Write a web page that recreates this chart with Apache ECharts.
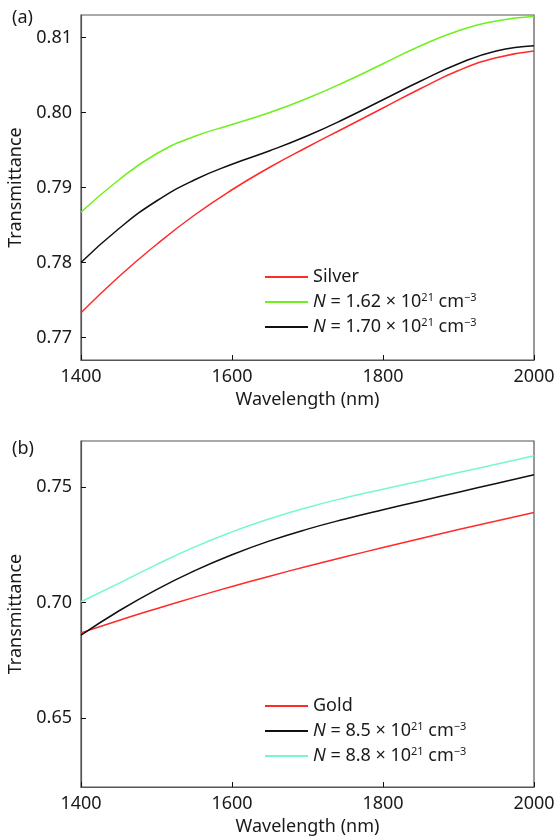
<!DOCTYPE html>
<html>
<head>
<meta charset="utf-8">
<script src="https://cdn.jsdelivr.net/npm/echarts@6/dist/echarts.min.js"></script>
<style>
html,body{margin:0;padding:0;background:#fff;}
#chart{width:557px;height:837px;}
</style>
</head>
<body>
<div id="chart"></div>
<script>
// Wavelength (nm)
var wavelengths = [1400,1450,1500,1550,1600,1650,1700,1750,1800,1850,1900,1950,2000];

// Panel (a)
var silver   = [0.7733,0.7781,0.7824,0.7863,0.7897,0.7927,0.7954,0.7980,0.8006,0.8032,0.8056,0.8073,0.8082];
var agN162   = [0.7867,0.7910,0.7945,0.7968,0.7984,0.8000,0.8019,0.8041,0.8065,0.8089,0.8109,0.8122,0.8128];
var agN170   = [0.7800,0.7845,0.7882,0.7910,0.7931,0.7949,0.7969,0.7992,0.8017,0.8042,0.8065,0.8082,0.8089];

// Panel (b)
var gold     = [0.6868,0.6922,0.6973,0.7022,0.7069,0.7114,0.7157,0.7198,0.7238,0.7277,0.7316,0.7353,0.7390];
var auN85    = [0.6858,0.6963,0.7056,0.7137,0.7207,0.7267,0.7318,0.7362,0.7402,0.7440,0.7478,0.7516,0.7554];
var auN88    = [0.7003,0.7083,0.7164,0.7240,0.7306,0.7363,0.7412,0.7454,0.7491,0.7527,0.7563,0.7599,0.7636];

var xTicks = [1400,1600,1800,2000];
var yTicksA = [0.77,0.78,0.79,0.80,0.81];
var yTicksB = [0.65,0.70,0.75];

var namesA = ['Silver','N = 1.62 × 10^21 cm^−3','N = 1.70 × 10^21 cm^−3'];
var namesB = ['Gold','N = 8.5 × 10^21 cm^−3','N = 8.8 × 10^21 cm^−3'];

var FONT = 'Noto Sans';
function pairs(ys){ return wavelengths.map(function(x,i){ return [x, ys[i]]; }); }
function legendFmt(name){
  if (name.indexOf('N = ') !== 0) return name;
  var m = name.match(/^N = (.*) × 10\^(\d+) cm\^(.*)$/);
  return '{i|N} = ' + m[1] + ' × 10{sup|' + m[2] + '} cm{sup|' + m[3] + '}';
}
var rich = {
  i: {fontStyle:'italic', fontSize:18, fontFamily:FONT, color:'#1a1a1a'},
  sup: {fontSize:11, fontFamily:FONT, color:'#1a1a1a', verticalAlign:'top', lineHeight:20}
};

function xAx(gi){
  return {
    type:'value', gridIndex:gi, min:1400, max:2000, interval:200,
    name:'Wavelength (nm)', nameLocation:'middle', nameGap:31,
    nameTextStyle:{fontSize:18, fontFamily:FONT, color:'#1a1a1a'},
    axisLine:{show:true, lineStyle:{color:'#555', width:1.2}},
    axisTick:{show:true, inside:true, length:5, customValues:xTicks, lineStyle:{color:'#111'}},
    axisLabel:{fontSize:18, fontFamily:FONT, color:'#1a1a1a', margin:8, customValues:xTicks,
      formatter:function(v){ return String(v); }},
    splitLine:{show:false}
  };
}
function yAx(gi, min, max, ticks){
  return {
    type:'value', gridIndex:gi, min:min, max:max,
    name:'Transmittance', nameLocation:'middle', nameGap:56,
    nameTextStyle:{fontSize:18, fontFamily:FONT, color:'#1a1a1a'},
    axisLine:{show:true, lineStyle:{color:'#555', width:1.2}},
    axisTick:{show:true, inside:true, length:5, customValues:ticks, lineStyle:{color:'#111'}},
    axisLabel:{fontSize:18, fontFamily:FONT, color:'#1a1a1a', margin:9, customValues:ticks,
      formatter:function(v){ return v.toFixed(2); }},
    splitLine:{show:false}
  };
}
function ser(name, data, color, xi){
  return {type:'line', name:name, xAxisIndex:xi, yAxisIndex:xi, data:pairs(data),
    smooth:true, showSymbol:false, symbol:'none', lineStyle:{color:color, width:1.5}, itemStyle:{color:color},
    animation:false};
}

var chart = echarts.init(document.getElementById('chart'));
chart.setOption({
  animation:false,
  backgroundColor:'#fff',
  title:[
    {text:'(a)', left:7, top:4, textStyle:{fontSize:18, fontWeight:'normal', fontFamily:FONT, color:'#1a1a1a'}},
    {text:'(b)', left:7, top:435, textStyle:{fontSize:18, fontWeight:'normal', fontFamily:FONT, color:'#1a1a1a'}}
  ],
  grid:[
    {left:81, top:15, width:453, height:345, show:true, borderColor:'#555', borderWidth:1.2, containLabel:false, outerBoundsMode:'none'},
    {left:81, top:441, width:453, height:346, show:true, borderColor:'#555', borderWidth:1.2, containLabel:false, outerBoundsMode:'none'}
  ],
  xAxis:[xAx(0), xAx(1)],
  yAxis:[yAx(0, 0.767, 0.813, yTicksA), yAx(1, 0.62, 0.77, yTicksB)],
  legend:[
    {data:namesA, orient:'vertical', left:260, top:262, itemWidth:43, itemHeight:2, itemGap:5, icon:'rect',
     formatter:legendFmt, textStyle:{fontSize:18, fontFamily:FONT, color:'#1a1a1a', lineHeight:20, rich:rich}},
    {data:namesB, orient:'vertical', left:260, top:691, itemWidth:43, itemHeight:2, itemGap:5, icon:'rect',
     formatter:legendFmt, textStyle:{fontSize:18, fontFamily:FONT, color:'#1a1a1a', lineHeight:20, rich:rich}}
  ],
  series:[
    ser(namesA[0], silver, '#ff2a2a', 0),
    ser(namesA[1], agN162, '#6ef01c', 0),
    ser(namesA[2], agN170, '#111111', 0),
    ser(namesB[0], gold, '#ff2a2a', 1),
    ser(namesB[1], auN85, '#111111', 1),
    ser(namesB[2], auN88, '#76f7d2', 1)
  ]
});
</script>
</body>
</html>
